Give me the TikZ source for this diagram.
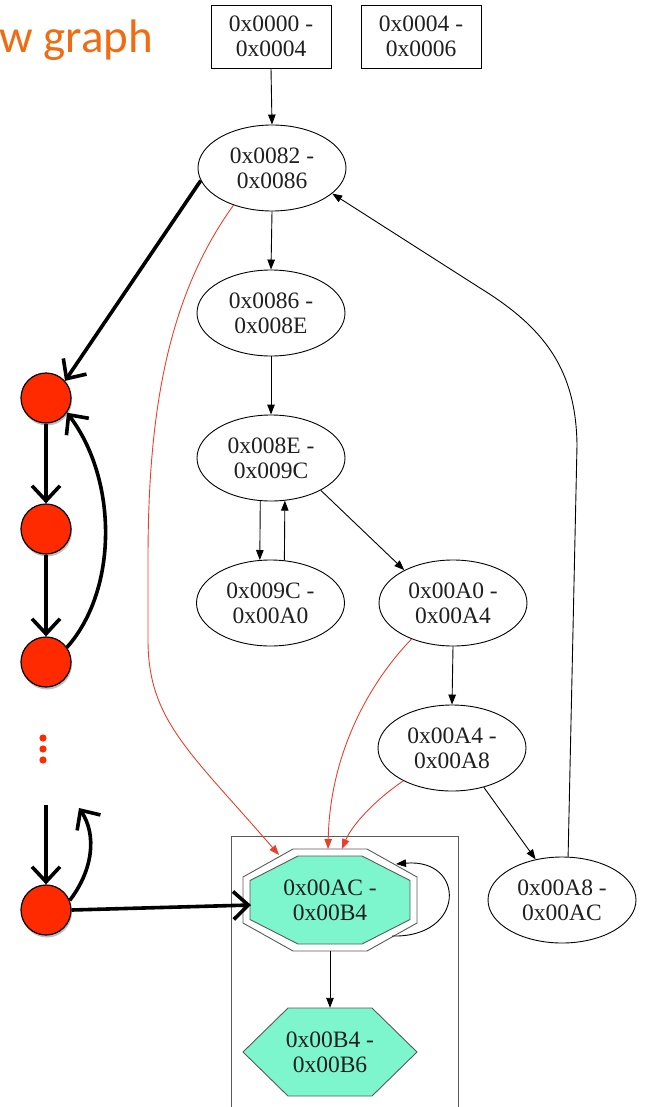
\documentclass[tikz,border=0pt]{standalone}
\usepackage{fontspec}
\setmainfont{Liberation Serif}
\newfontfamily\titlefont{Carlito}
\usetikzlibrary{arrows.meta,shapes.geometric,shadows}

\definecolor{flowred}{RGB}{255,42,0}
\definecolor{titleorange}{RGB}{240,108,18}
\definecolor{blockfill}{RGB}{125,245,205}
\definecolor{cfgred}{RGB}{232,64,44}
\definecolor{clustergray}{RGB}{90,90,90}

\begin{document}
\begin{tikzpicture}[x=1pt,y=-1pt,
  lbl/.style={font=\fontsize{23.5}{25}\selectfont, align=center, inner sep=0pt, text=black!88},
  blk/.style={lbl, ellipse, draw, line width=0.9pt, minimum width=148pt, minimum height=86pt},
  entry/.style={lbl, rectangle, draw, line width=0.9pt, minimum width=120pt, minimum height=63pt},
  edge/.style={line width=0.9pt, -{Triangle[length=10pt,width=7.5pt]}},
  redge/.style={edge, draw=cfgred},
  loopnode/.style={circle, draw, fill=flowred, line width=1.2pt, minimum size=50pt, inner sep=0pt,
    drop shadow={shadow xshift=1pt, shadow yshift=-2.5pt, opacity=0.25, fill=black}},
  fat/.style={line width=3.6pt, -{Straight Barb[length=15pt,width=28pt]}}
]
\useasboundingbox (0,0) rectangle (646,1107);

% title fragment
\node[font=\titlefont\fontsize{47}{47}\selectfont, text=titleorange, anchor=base west, inner sep=0pt]
  (title) at (-1,53) {w graph};

% entry blocks
\node[entry] (b1) at (271,36.5) {0x0000 -\\0x0004};
\node[entry] (b2) at (421,36.5) {0x0004 -\\0x0006};

% basic blocks
\node[blk] (e82) at (272,168) {0x0082 -\\0x0086};
\node[blk] (e86) at (271,313) {0x0086 -\\0x008E};
\node[blk] (e8E) at (271,458) {0x008E -\\0x009C};
\node[blk] (e9C) at (270.5,603) {0x009C -\\0x00A0};
\node[blk] (eA0) at (453,603) {0x00A0 -\\0x00A4};
\node[blk] (eA4) at (452,748) {0x00A4 -\\0x00A8};
\node[blk] (eA8) at (562,900) {0x00A8 -\\0x00AC};

% cluster around the exit blocks
\draw[clustergray, line width=1pt] (231,1115) -- (231,836) -- (458,836) -- (458,1115);

% double octagon
\begin{scope}[shift={(330,900)}]
  \draw[clustergray, line width=0.9pt, fill=white]
    (-37,-51) -- (37,-51) -- (87,-23) -- (87,23) -- (37,51) -- (-37,51) -- (-87,23) -- (-87,-23) -- cycle;
  \draw[clustergray, line width=0.9pt, fill=blockfill]
    (-32,-44) -- (32,-44) -- (80,-19.5) -- (80,19.5) -- (32,44) -- (-32,44) -- (-80,19.5) -- (-80,-19.5) -- cycle;
\end{scope}
\node[lbl, minimum width=174pt, minimum height=101pt] (oct) at (330,900) {0x00AC -\\0x00B4};

% hexagon
\begin{scope}[shift={(330,1052)}]
  \draw[clustergray, line width=0.9pt, fill=blockfill]
    (-87,0) -- (-42,-44) -- (42,-44) -- (87,0) -- (42,44) -- (-42,44) -- cycle;
\end{scope}
\node[lbl, minimum width=174pt, minimum height=88pt] (hex) at (330,1052) {0x00B4 -\\0x00B6};

% control-flow edges
\draw[edge] (b1.south) -- (e82.north);
\draw[edge] (e82.south) -- (e86.north);
\draw[edge] (e86.south) -- (e8E.north);
\draw[edge] (e8E.256) -- (e9C.104);
\draw[edge] (e9C.72) -- (e8E.288);
\draw[edge] (e8E.-33) -- (eA0.146);
\draw[edge] (eA0.south) -- (eA4.north);
\draw[edge] (eA4.-51) -- (eA8.123);
\draw[edge] (eA8.82) -- (577,445) .. controls (576,370) and (545,328) .. (480,288) -- (e82.-23);
\draw[edge] (oct.south) -- (hex.north);

\coordinate (loopS) at (392,936);
\coordinate (loopE) at (396,864);
\draw[edge] (loopS) .. controls (466,938) and (466,858) .. (loopE);

% red edges into the exit block
\coordinate (octNW) at (279,855);
\coordinate (octN1) at (328,849);
\coordinate (octN2) at (342,849);
\draw[redge] (e82.224) .. controls (165,300) and (148,420) .. (148,560) -- (148,640)
  .. controls (148,720) and (190,752) .. (octNW);
\draw[redge] (eA0.221) .. controls (372,680) and (330,750) .. (octN1);
\draw[redge] (eA4.214) .. controls (375,800) and (352,825) .. (octN2);

% abstract loop on the left
\node[loopnode] (c1) at (46,398) {};
\node[loopnode] (c2) at (46,529) {};
\node[loopnode] (c3) at (46,662) {};
\node[loopnode] (c4) at (46,910) {};

\fill[flowred] (43,738) circle (3.6pt) (43,749) circle (3.6pt) (43,760) circle (3.6pt);

\draw[fat] (e82.190) -- (c1.42);
\draw[fat] (c1.south) -- (c2.north);
\draw[fat] (c2.south) -- (c3.north);
\draw[fat] (c3.35) .. controls (118,590) and (118,480) .. (c1.-35);

\coordinate (c4in) at (46,805);
\coordinate (c4out) at (79,808);
\coordinate (octW) at (251,905);
\draw[fat] (c4in) -- (c4.north);
\draw[fat] (c4.22) .. controls (93,870) and (97,835) .. (c4out);
\draw[fat] (c4.east) -- (octW);
\end{tikzpicture}
\end{document}
